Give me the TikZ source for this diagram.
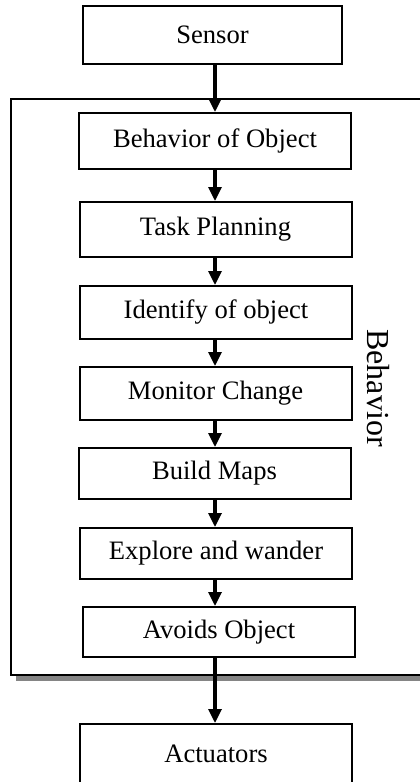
\documentclass[tikz,border=0pt]{standalone}
\usepackage{fontspec}
\setmainfont{Liberation Serif}
\usetikzlibrary{arrows.meta}

\tikzset{
  stage/.style={draw=black, line width=1pt, fill=white, inner sep=0pt,
    minimum width=136pt, font=\fontsize{13.3}{16}\selectfont},
  flow/.style={-{Triangle[length=7pt,width=6.5pt]}, line width=1.6pt},
}

\begin{document}
\begin{tikzpicture}[x=0.5pt, y=-0.5pt]
\useasboundingbox (0,0) rectangle (419,782);

% Behavior block with shadow
\fill[black!48] (16,104) rectangle (437,681);
\draw[line width=1pt, fill=white] (11,99) rectangle (432,675);
\node[rotate=-90, font=\fontsize{16}{19}\selectfont] (behlabel) at (378,388) {Behavior};

% Stages
\node[stage, minimum width=129.5pt, minimum height=29pt] (sensor) at (212.5,35) {Sensor};
\node[stage, minimum height=28pt] (behobj) at (215,141) {Behavior of Object};
\node[stage, minimum height=27.5pt] (task) at (215.5,229.5) {Task Planning};
\node[stage, minimum height=26.5pt] (ident) at (216,312.5) {Identify of object};
\node[stage, minimum height=26.5pt] (monitor) at (215.5,393.5) {Monitor Change};
\node[stage, minimum height=25.5pt] (maps) at (214.5,473.5) {Build Maps};
\node[stage, minimum height=25.5pt] (explore) at (216,553.5) {Explore and wander};
\node[stage, minimum height=25pt] (avoid) at (219,632) {Avoids Object};
\node[stage, minimum height=30pt] (act) at (216,754) {Actuators};

% Arrows
\coordinate (axis) at (215,0);
\draw[flow] (sensor.south -| axis) -- (behobj.north -| axis);
\draw[flow] (behobj.south -| axis) -- (task.north -| axis);
\draw[flow] (task.south -| axis) -- (ident.north -| axis);
\draw[flow] (ident.south -| axis) -- (monitor.north -| axis);
\draw[flow] (monitor.south -| axis) -- (maps.north -| axis);
\draw[flow] (maps.south -| axis) -- (explore.north -| axis);
\draw[flow] (explore.south -| axis) -- (avoid.north -| axis);
\draw[flow] (avoid.south -| axis) -- (act.north -| axis);
\end{tikzpicture}
\end{document}
